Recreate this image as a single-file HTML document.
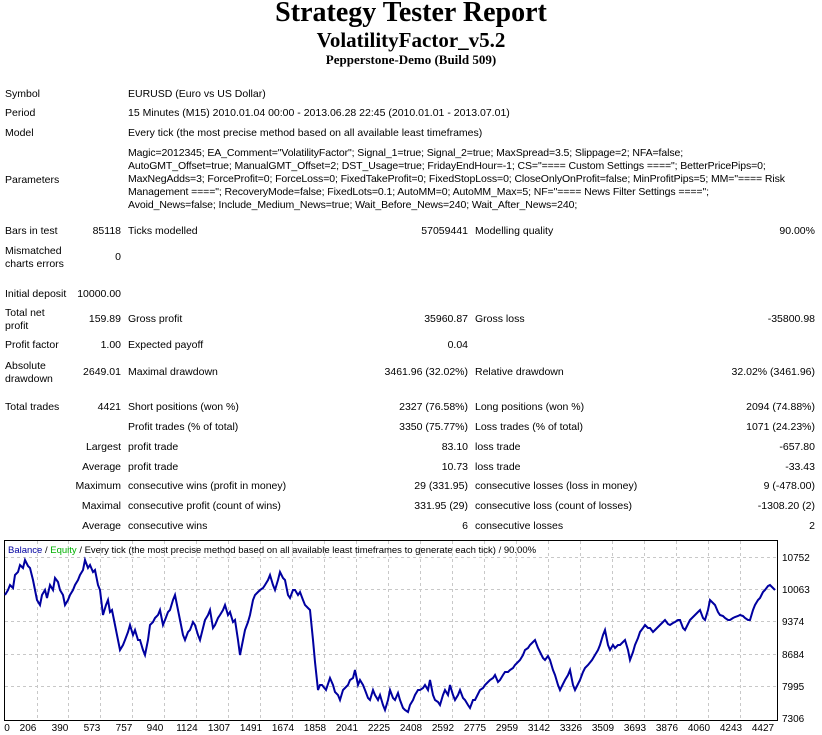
<!DOCTYPE html>
<html><head><meta charset="utf-8"><style>
body{margin:0;width:822px;height:735px;background:#fff;position:relative;font-family:"Liberation Sans",sans-serif;font-size:10.5px;color:#000;overflow:hidden}
.t{position:absolute;white-space:nowrap;line-height:13px}
.r{text-align:right}
.c{position:absolute;left:0;width:822px;text-align:center;font-family:"Liberation Serif",serif;font-weight:bold;white-space:nowrap}
</style></head><body>
<div class="c" style="top:-3px;font-size:28px">Strategy Tester Report</div>
<div class="c" style="top:28px;font-size:21px">VolatilityFactor_v5.2</div>
<div class="c" style="top:52px;font-size:13px">Pepperstone-Demo (Build 509)</div>

<div class="t" style="left:5px;top:88px">Symbol</div><div class="t" style="left:128px;top:88px">EURUSD (Euro vs US Dollar)</div>
<div class="t" style="left:5px;top:107px">Period</div><div class="t" style="left:128px;top:107px">15 Minutes (M15) 2010.01.04 00:00 - 2013.06.28 22:45 (2010.01.01 - 2013.07.01)</div>
<div class="t" style="left:5px;top:127px">Model</div><div class="t" style="left:128px;top:127px">Every tick (the most precise method based on all available least timeframes)</div>
<div class="t" style="left:5px;top:174px">Parameters</div>
<div class="t" style="left:128px;top:147px;letter-spacing:-0.1px">Magic=2012345; EA_Comment="VolatilityFactor"; Signal_1=true; Signal_2=true; MaxSpread=3.5; Slippage=2; NFA=false;<br>AutoGMT_Offset=true; ManualGMT_Offset=2; DST_Usage=true; FridayEndHour=-1; CS="==== Custom Settings ===="; BetterPricePips=0;<br>MaxNegAdds=3; ForceProfit=0; ForceLoss=0; FixedTakeProfit=0; FixedStopLoss=0; CloseOnlyOnProfit=false; MinProfitPips=5; MM="==== Risk<br>Management ===="; RecoveryMode=false; FixedLots=0.1; AutoMM=0; AutoMM_Max=5; NF="==== News Filter Settings ====";<br>Avoid_News=false; Include_Medium_News=true; Wait_Before_News=240; Wait_After_News=240;</div>

<div class="t" style="left:5px;top:225px">Bars in test</div><div class="t r" style="right:701px;top:225px">85118</div>
<div class="t" style="left:128px;top:225px">Ticks modelled</div><div class="t r" style="right:354px;top:225px">57059441</div>
<div class="t" style="left:475px;top:225px">Modelling quality</div><div class="t r" style="right:7px;top:225px">90.00%</div>

<div class="t" style="left:5px;top:245px">Mismatched<br>charts errors</div><div class="t r" style="right:701px;top:251px">0</div>

<div class="t" style="left:5px;top:288px">Initial deposit</div><div class="t r" style="right:701px;top:288px">10000.00</div>

<div class="t" style="left:5px;top:307px">Total net<br>profit</div><div class="t r" style="right:701px;top:313px">159.89</div>
<div class="t" style="left:128px;top:313px">Gross profit</div><div class="t r" style="right:354px;top:313px">35960.87</div>
<div class="t" style="left:475px;top:313px">Gross loss</div><div class="t r" style="right:7px;top:313px">-35800.98</div>

<div class="t" style="left:5px;top:339px">Profit factor</div><div class="t r" style="right:701px;top:339px">1.00</div>
<div class="t" style="left:128px;top:339px">Expected payoff</div><div class="t r" style="right:354px;top:339px">0.04</div>

<div class="t" style="left:5px;top:360px">Absolute<br>drawdown</div><div class="t r" style="right:701px;top:366px">2649.01</div>
<div class="t" style="left:128px;top:366px">Maximal drawdown</div><div class="t r" style="right:354px;top:366px">3461.96 (32.02%)</div>
<div class="t" style="left:475px;top:366px">Relative drawdown</div><div class="t r" style="right:7px;top:366px">32.02% (3461.96)</div>

<div class="t" style="left:5px;top:401px">Total trades</div><div class="t r" style="right:701px;top:401px">4421</div>
<div class="t" style="left:128px;top:401px">Short positions (won %)</div><div class="t r" style="right:354px;top:401px">2327 (76.58%)</div>
<div class="t" style="left:475px;top:401px">Long positions (won %)</div><div class="t r" style="right:7px;top:401px">2094 (74.88%)</div>

<div class="t" style="left:128px;top:421px">Profit trades (% of total)</div><div class="t r" style="right:354px;top:421px">3350 (75.77%)</div>
<div class="t" style="left:475px;top:421px">Loss trades (% of total)</div><div class="t r" style="right:7px;top:421px">1071 (24.23%)</div>

<div class="t r" style="right:701px;top:441px">Largest</div>
<div class="t" style="left:128px;top:441px">profit trade</div><div class="t r" style="right:354px;top:441px">83.10</div>
<div class="t" style="left:475px;top:441px">loss trade</div><div class="t r" style="right:7px;top:441px">-657.80</div>

<div class="t r" style="right:701px;top:461px">Average</div>
<div class="t" style="left:128px;top:461px">profit trade</div><div class="t r" style="right:354px;top:461px">10.73</div>
<div class="t" style="left:475px;top:461px">loss trade</div><div class="t r" style="right:7px;top:461px">-33.43</div>

<div class="t r" style="right:701px;top:480px">Maximum</div>
<div class="t" style="left:128px;top:480px">consecutive wins (profit in money)</div><div class="t r" style="right:354px;top:480px">29 (331.95)</div>
<div class="t" style="left:475px;top:480px">consecutive losses (loss in money)</div><div class="t r" style="right:7px;top:480px">9 (-478.00)</div>

<div class="t r" style="right:701px;top:500px">Maximal</div>
<div class="t" style="left:128px;top:500px">consecutive profit (count of wins)</div><div class="t r" style="right:354px;top:500px">331.95 (29)</div>
<div class="t" style="left:475px;top:500px">consecutive loss (count of losses)</div><div class="t r" style="right:7px;top:500px">-1308.20 (2)</div>

<div class="t r" style="right:701px;top:520px">Average</div>
<div class="t" style="left:128px;top:520px">consecutive wins</div><div class="t r" style="right:354px;top:520px">6</div>
<div class="t" style="left:475px;top:520px">consecutive losses</div><div class="t r" style="right:7px;top:520px">2</div>

<svg style="position:absolute;left:0;top:0" width="822" height="735" font-family="Liberation Sans, sans-serif" font-size="10">
<g stroke="#c8c8c8" stroke-dasharray="3,3" stroke-width="1">
<line x1="5" x2="777" y1="557.5" y2="557.5"/><line x1="5" x2="777" y1="589.5" y2="589.5"/><line x1="5" x2="777" y1="621.5" y2="621.5"/><line x1="5" x2="777" y1="654.5" y2="654.5"/><line x1="5" x2="777" y1="686.5" y2="686.5"/>
<line x1="37.5" x2="37.5" y1="541" y2="720"/><line x1="68.5" x2="68.5" y1="541" y2="720"/><line x1="100.5" x2="100.5" y1="541" y2="720"/><line x1="132.5" x2="132.5" y1="541" y2="720"/><line x1="164.5" x2="164.5" y1="541" y2="720"/><line x1="196.5" x2="196.5" y1="541" y2="720"/><line x1="228.5" x2="228.5" y1="541" y2="720"/><line x1="260.5" x2="260.5" y1="541" y2="720"/><line x1="292.5" x2="292.5" y1="541" y2="720"/><line x1="324.5" x2="324.5" y1="541" y2="720"/><line x1="356.5" x2="356.5" y1="541" y2="720"/><line x1="388.5" x2="388.5" y1="541" y2="720"/><line x1="420.5" x2="420.5" y1="541" y2="720"/><line x1="452.5" x2="452.5" y1="541" y2="720"/><line x1="484.5" x2="484.5" y1="541" y2="720"/><line x1="516.5" x2="516.5" y1="541" y2="720"/><line x1="548.5" x2="548.5" y1="541" y2="720"/><line x1="580.5" x2="580.5" y1="541" y2="720"/><line x1="612.5" x2="612.5" y1="541" y2="720"/><line x1="644.5" x2="644.5" y1="541" y2="720"/><line x1="676.5" x2="676.5" y1="541" y2="720"/><line x1="708.5" x2="708.5" y1="541" y2="720"/><line x1="740.5" x2="740.5" y1="541" y2="720"/>
</g>
<rect x="4.5" y="540.5" width="773" height="180" fill="none" stroke="#000"/>
<text x="8" y="553" fill="#0000a0" font-size="9.5">Balance <tspan fill="#000">/</tspan> <tspan fill="#00b000">Equity</tspan> <tspan fill="#000">/ Every tick (the most precise method based on all available least timeframes to generate each tick) / 90.00%</tspan></text>
<polyline fill="none" stroke="#0000a0" stroke-width="2" points="5,595 8,590 10,585 13,588 15,575 18,572 20,565 23,568 25,560 28,566 30,568 33,580 35,590 37,600 40,605 42,595 45,590 47,598 50,585 53,590 55,578 58,582 60,590 63,595 65,605 68,600 70,595 73,590 75,585 78,580 80,575 83,570 85,560 88,568 90,565 93,572 95,570 98,585 100,590 103,615 106,605 108,600 110,612 112,610 115,625 118,640 120,650 123,645 125,640 128,632 130,625 133,635 135,630 138,640 140,640 143,650 145,655 148,640 150,625 153,622 155,618 158,615 160,610 163,625 165,620 168,612 170,610 173,600 175,595 178,610 180,620 183,635 185,640 188,632 190,630 193,622 195,625 198,635 200,640 203,628 205,620 208,615 210,610 213,628 215,625 218,618 220,615 223,610 225,605 228,615 230,612 233,622 235,620 238,640 240,655 243,640 245,630 248,622 250,615 253,600 255,595 258,592 260,590 263,588 265,585 268,580 270,575 273,585 275,590 278,580 280,572 283,578 285,580 288,595 290,598 293,590 295,590 298,595 300,592 303,600 305,605 308,608 310,610 313,640 315,662 318,690 320,685 322,685 326,690 330,678 333,685 335,692 338,695 340,700 343,690 345,688 348,685 350,680 353,678 355,670 358,685 360,680 363,685 365,690 368,698 370,700 373,690 375,695 378,700 380,695 383,705 385,710 388,700 390,690 393,698 395,700 398,693 400,700 403,708 405,710 408,712 410,705 413,700 415,695 418,690 420,690 423,688 425,685 428,690 430,680 433,695 435,700 438,702 440,705 443,695 445,690 448,695 450,685 453,695 455,700 458,695 460,690 463,698 465,700 468,705 470,708 473,700 475,700 478,694 480,690 483,688 485,685 488,682 490,680 493,678 495,675 498,682 500,680 503,675 505,672 508,672 510,670 513,668 515,665 518,662 520,660 523,655 525,650 528,648 530,645 533,642 535,640 538,648 540,652 543,658 545,660 548,656 550,660 553,670 555,675 558,685 560,690 563,684 565,680 568,675 570,670 573,685 575,690 578,684 580,680 583,672 585,668 588,665 592,660 595,655 598,650 600,645 603,635 605,630 608,645 610,650 613,645 615,648 618,645 620,645 623,642 625,640 628,650 630,660 633,652 635,645 638,638 640,632 643,628 645,625 648,628 650,628 653,632 655,630 658,627 660,625 663,622 665,620 668,624 670,625 673,623 675,622 678,620 680,620 683,628 685,630 688,624 690,620 693,617 695,615 698,612 700,610 703,618 705,620 708,610 710,600 713,603 715,605 718,612 720,615 723,616 725,618 728,620 730,620 733,618 735,617 738,616 740,615 743,616 745,618 748,620 750,620 753,610 755,605 758,600 760,598 763,592 765,590 768,586 770,585 773,588 775,590"/>
<g fill="#000">
<text x="782" y="561">10752</text><text x="782" y="593">10063</text><text x="782" y="625">9374</text><text x="782" y="658">8684</text><text x="782" y="690">7995</text><text x="782" y="722">7306</text>
</g>
<g fill="#000" text-anchor="middle">
<text x="7" y="731">0</text><text x="28" y="731">206</text><text x="60" y="731">390</text><text x="92" y="731">573</text><text x="124" y="731">757</text><text x="155" y="731">940</text><text x="187" y="731">1124</text><text x="219" y="731">1307</text><text x="251" y="731">1491</text><text x="283" y="731">1674</text><text x="315" y="731">1858</text><text x="347" y="731">2041</text><text x="379" y="731">2225</text><text x="411" y="731">2408</text><text x="443" y="731">2592</text><text x="475" y="731">2775</text><text x="507" y="731">2959</text><text x="539" y="731">3142</text><text x="571" y="731">3326</text><text x="603" y="731">3509</text><text x="635" y="731">3693</text><text x="667" y="731">3876</text><text x="699" y="731">4060</text><text x="731" y="731">4243</text><text x="763" y="731">4427</text>
</g>
</svg>
</body></html>
